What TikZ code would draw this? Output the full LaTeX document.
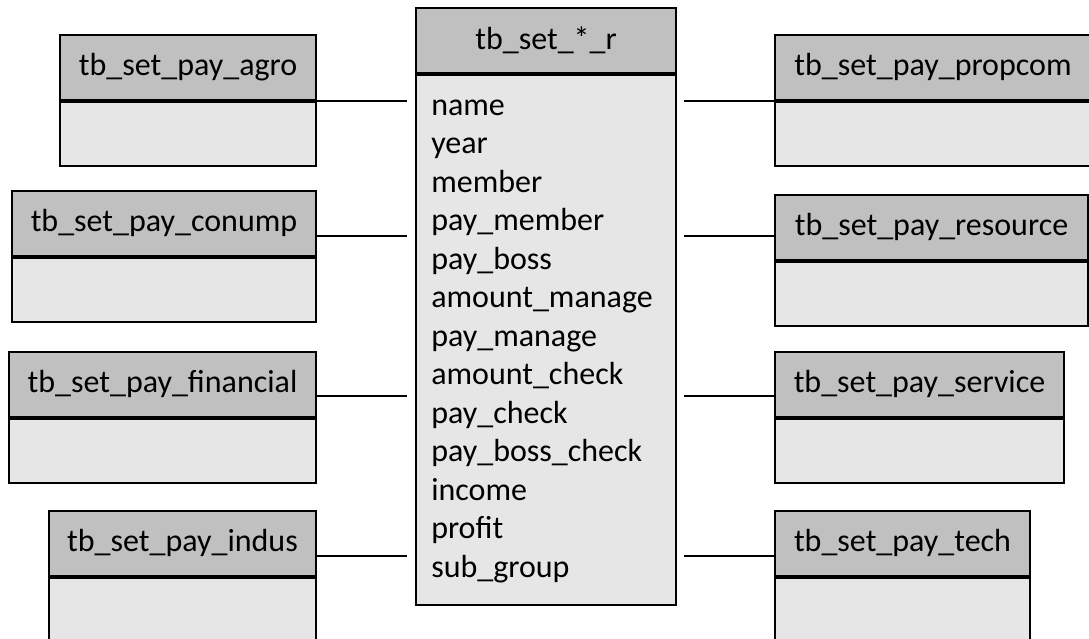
\documentclass[tikz,border=0pt]{standalone}
\usepackage{fontspec}
\setmainfont{Carlito}
\usepackage{tikz}
\usetikzlibrary{positioning}
\definecolor{headgray}{RGB}{192, 192, 192}
\definecolor{bodygray}{RGB}{230, 230, 230}
\tikzset{
    tblhead/.style={draw=black, line width=1.5pt, fill=headgray, inner sep=0pt, minimum height=48.5pt, font=\fontsize{24}{29}\selectfont},
    tblbody/.style={draw=black, line width=1.5pt, fill=bodygray, inner sep=0pt, minimum height=48.5pt},
    field/.style={anchor=base west, inner sep=0pt, font=\fontsize{24}{29}\selectfont},
    link/.style={line width=1.5pt}
}
\newcommand{\dbtable}[5]{% {name}{centre x}{top y}{width}{title}
    \node[tblhead, minimum width=#4*0.75pt, anchor=north] (#1) at (#2,#3) {#5};
    \node[tblbody, minimum width=#4*0.75pt, anchor=north] (#1-body) at (#1.south) {};
}

\begin{document}
\begin{tikzpicture}[x=0.75pt, y=-0.75pt]
    \useasboundingbox (0,0) rectangle (1089,639);
    \clip (0,0) rectangle (1089,639);

    % central table
    \node[tblhead, minimum width=195pt, anchor=north] (tbr) at (546,7) {tb\_set\_*\_r};
    \node[tblbody, minimum width=195pt, minimum height=397.5pt, anchor=north] (tbr-body) at (tbr.south) {};
    \foreach \fld [count=\i from 0] in {name, year, member, pay\_member, pay\_boss, amount\_manage, pay\_manage, amount\_check, pay\_check, pay\_boss\_check, income, profit, sub\_group}
        \node[field] (fld\i) at (431,{115+38.5*\i}) {\fld};

    % left tables
    \dbtable{agro}{188}{34}{256}{tb\_set\_pay\_agro}
    \dbtable{conump}{164}{190}{304}{tb\_set\_pay\_conump}
    \dbtable{financial}{162.5}{351}{307}{tb\_set\_pay\_financial}
    \dbtable{indus}{182.5}{510}{267}{tb\_set\_pay\_indus}

    % right tables
    \dbtable{propcom}{933}{34}{316}{tb\_set\_pay\_propcom}
    \dbtable{resource}{931.5}{194}{313}{tb\_set\_pay\_resource}
    \dbtable{service}{919.5}{351}{289}{tb\_set\_pay\_service}
    \dbtable{tech}{902.5}{510}{255}{tb\_set\_pay\_tech}

    % links
    \draw[link, shorten >=6pt] (agro.south east) -- (agro.south east -| tbr.west);
    \draw[link, shorten >=6pt] (conump.east |- 0,236) -- (tbr.west |- 0,236);
    \draw[link, shorten >=6pt] (financial.east |- 0,396) -- (tbr.west |- 0,396);
    \draw[link, shorten >=6pt] (indus.east |- 0,556) -- (tbr.west |- 0,556);
    \draw[link, shorten >=5pt] (propcom.south west) -- (propcom.south west -| tbr.east);
    \draw[link, shorten >=5pt] (resource.west |- 0,236) -- (tbr.east |- 0,236);
    \draw[link, shorten >=5pt] (service.west |- 0,396) -- (tbr.east |- 0,396);
    \draw[link, shorten >=5pt] (tech.west |- 0,556) -- (tbr.east |- 0,556);

\end{tikzpicture}
\end{document}
